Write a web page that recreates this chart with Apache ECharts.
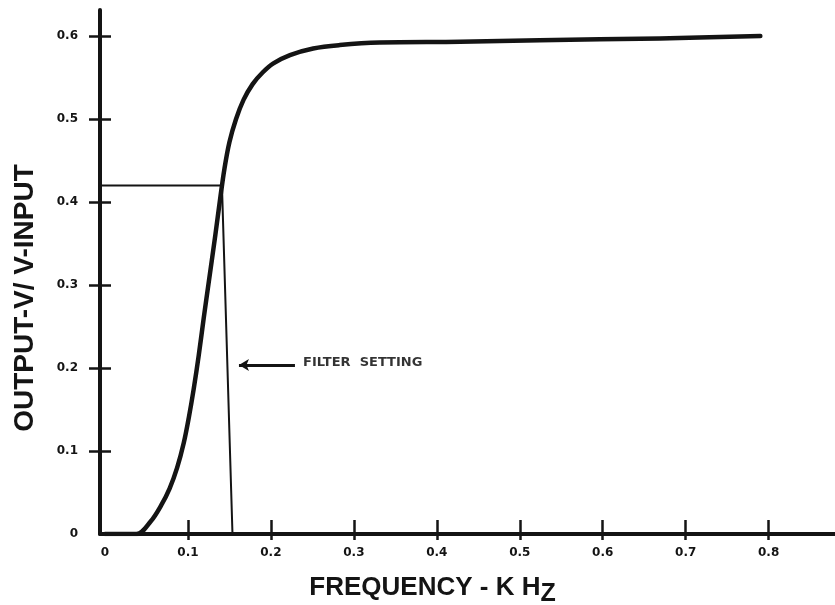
<!DOCTYPE html>
<html>
<head>
<meta charset="utf-8">
<script src="https://cdn.jsdelivr.net/npm/echarts@6/dist/echarts.min.js"></script>
<style>
  html, body { margin: 0; padding: 0; background: #ffffff; }
  #chart { width: 835px; height: 605px; }
</style>
</head>
<body>
<div id="chart"></div>
<script>
// ---- data ----
const freq =   [0.000, 0.038, 0.055, 0.068, 0.078, 0.087, 0.095, 0.101, 0.107, 0.113, 0.119, 0.126, 0.133, 0.139, 0.144, 0.150, 0.158, 0.167, 0.178, 0.190, 0.203, 0.223, 0.251, 0.283, 0.331, 0.428, 0.524, 0.669, 0.790];
const output = [0.000, 0.000, 0.015, 0.035, 0.055, 0.080, 0.110, 0.140, 0.175, 0.215, 0.260, 0.310, 0.360, 0.405, 0.440, 0.472, 0.500, 0.523, 0.542, 0.556, 0.567, 0.577, 0.585, 0.589, 0.592, 0.593, 0.595, 0.597, 0.600];
const guideX = [-0.006, 0.141, 0.1537];   // 0.42 level line, then the filter-setting line
const guideY = [0.42, 0.42, 0.0];
const arrowX = [0.229, 0.1615];
const arrowY = [0.2036, 0.2036];
const noteX = [0.2387];
const noteY = [0.2066];
const noteText = 'FILTER  SETTING';
const xTickValues = [0, 0.1, 0.2, 0.3, 0.4, 0.5, 0.6, 0.7, 0.8];
const xTickLabels = ['0', '0.1', '0.2', '0.3', '0.4', '0.5', '0.6', '0.7', '0.8'];
const yTickValues = [0, 0.1, 0.2, 0.3, 0.4, 0.5, 0.6];
const yTickLabels = ['0', '0.1', '0.2', '0.3', '0.4', '0.5', '0.6'];
const xTitle = 'FREQUENCY - K H';
const xTitleSub = 'Z';
const yTitle = 'OUTPUT-V/ V-INPUT';

// ---- chart ----
const INK = '#141414';
const chart = echarts.init(document.getElementById('chart'), null, { renderer: 'canvas' });

function lookup(values, labels, v) {
  for (let i = 0; i < values.length; i++) {
    if (Math.abs(values[i] - v) < 1e-6) return labels[i];
  }
  return '';
}

const tickFont = { color: INK, fontFamily: 'DejaVu Sans', fontWeight: 'bold', fontSize: 12 };
const xMin = -0.006, xMax = 0.88, yMin = 0, yMax = 0.6313;

const option = {
  backgroundColor: '#ffffff',
  animation: false,
  grid: { left: 100, right: 0, top: 10, bottom: 71, containLabel: false, outerBoundsMode: 'none' },
  xAxis: [
    {
      type: 'value', min: xMin, max: xMax, position: 'bottom',
      axisLine: { show: true, onZero: false, lineStyle: { color: INK, width: 4 } },
      axisTick: { show: true, inside: false, length: 6, lineStyle: { color: INK, width: 2.5 },
                  customValues: xTickValues.slice(1) },
      axisLabel: { show: true, margin: 13, ...tickFont,
                   customValues: xTickValues,
                   formatter: v => lookup(xTickValues, xTickLabels, v) },
      splitLine: { show: false },
      name: '{m|' + xTitle + '}{sub|' + xTitleSub + '}',
      nameLocation: 'middle', nameGap: 34,
      nameTextStyle: {
        padding: [0, 70, 0, 0],
        rich: {
          m: { fontFamily: 'Liberation Sans', fontWeight: 'bold', fontSize: 26, color: INK },
          sub: { fontFamily: 'Liberation Sans', fontWeight: 'bold', fontSize: 25, color: INK, padding: [14, 0, 0, 0] }
        }
      }
    },
    {
      type: 'value', min: xMin, max: xMax, position: 'bottom',
      axisLine: { show: false, onZero: false },
      axisTick: { show: true, inside: true, length: 14, lineStyle: { color: INK, width: 2.5 },
                  customValues: xTickValues.slice(1) },
      axisLabel: { show: false },
      splitLine: { show: false }
    }
  ],
  yAxis: [
    {
      type: 'value', min: yMin, max: yMax, position: 'left',
      axisLine: { show: true, onZero: false, lineStyle: { color: INK, width: 4 } },
      axisTick: { show: true, inside: false, length: 11, lineStyle: { color: INK, width: 2.5 },
                  customValues: yTickValues.slice(1) },
      axisLabel: { show: true, margin: 22, ...tickFont,
                   customValues: yTickValues,
                   formatter: v => lookup(yTickValues, yTickLabels, v) },
      splitLine: { show: false },
      name: yTitle, nameLocation: 'middle', nameGap: 61, nameRotate: 90,
      nameTextStyle: { fontFamily: 'Liberation Sans', fontWeight: 'bold', fontSize: 28, color: INK, padding: [0, 52, 0, 0] }
    },
    {
      type: 'value', min: yMin, max: yMax, position: 'left',
      axisLine: { show: false, onZero: false },
      axisTick: { show: true, inside: true, length: 11, lineStyle: { color: INK, width: 2.5 },
                  customValues: yTickValues.slice(1) },
      axisLabel: { show: false },
      splitLine: { show: false }
    }
  ],
  series: [
    {
      name: 'response', type: 'line', xAxisIndex: 0, yAxisIndex: 0,
      data: freq.map((f, i) => [f, output[i]]),
      showSymbol: false, smooth: 0.35,
      lineStyle: { color: INK, width: 4.5, cap: 'round', join: 'round' },
      z: 5
    },
    {
      name: 'guide', type: 'line', xAxisIndex: 0, yAxisIndex: 0,
      data: guideX.map((x, i) => [x, guideY[i]]),
      showSymbol: false,
      lineStyle: { color: INK, width: 2 },
      z: 4,
      markLine: {
        silent: true, animation: false,
        symbol: ['none', 'arrow'], symbolSize: [9, 10],
        label: { show: false },
        lineStyle: { color: INK, width: 3, type: 'solid' },
        data: [[{ coord: [arrowX[0], arrowY[0]] }, { coord: [arrowX[1], arrowY[1]] }]]
      }
    },
    {
      name: 'note', type: 'scatter', xAxisIndex: 0, yAxisIndex: 0,
      data: noteX.map((x, i) => [x, noteY[i]]),
      symbolSize: 0,
      label: {
        show: true, position: 'right', distance: 0,
        formatter: () => noteText,
        fontFamily: 'DejaVu Sans', fontWeight: 'bold', fontSize: 13, color: '#000000'
      }
    }
  ]
};
chart.setOption(option);
</script>
</body>
</html>
